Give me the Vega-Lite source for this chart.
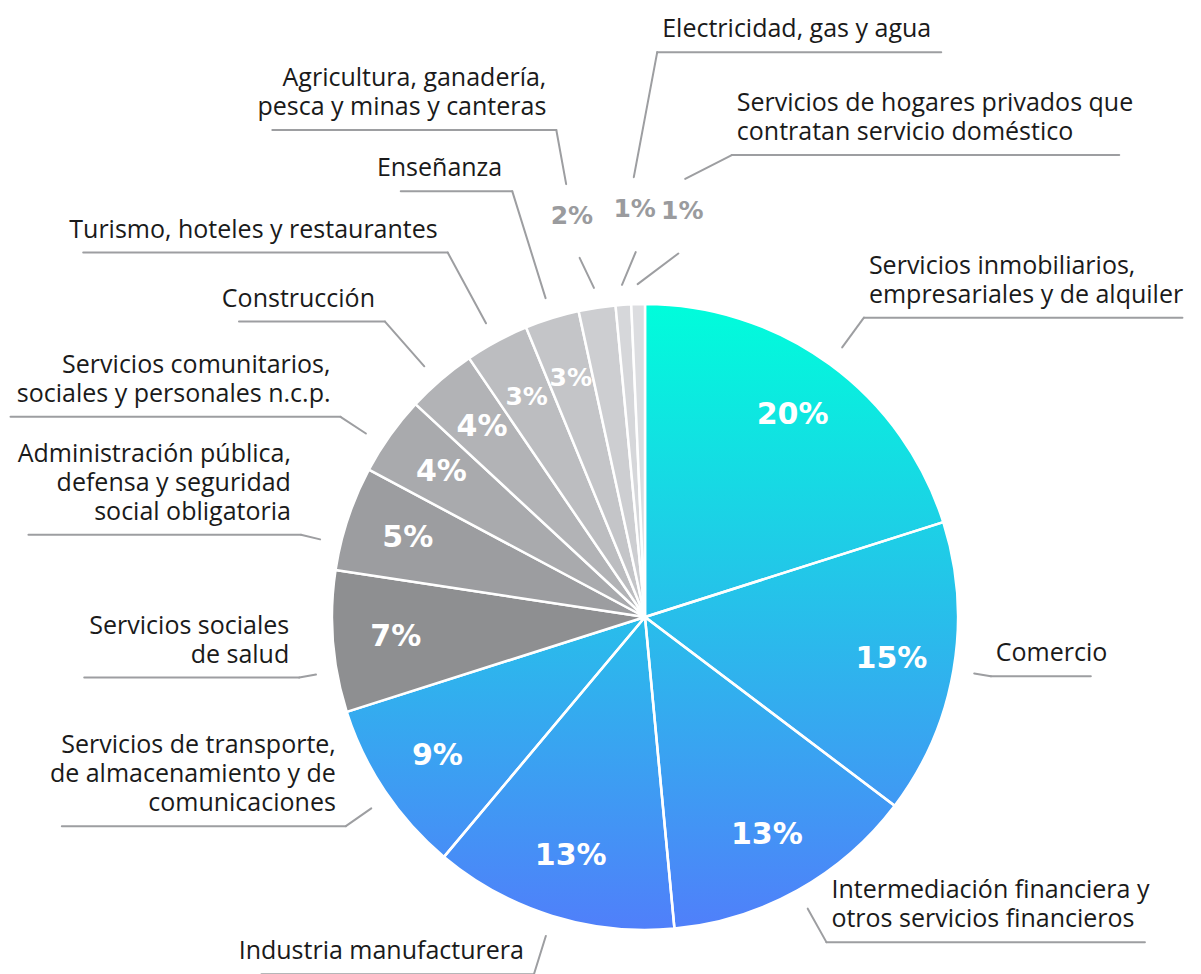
{
  "$schema": "https://vega.github.io/schema/vega-lite/v6.json",
  "width": 626,
  "height": 626,
  "autosize": {"type": "none"},
  "padding": {"left": 332, "top": 304, "right": 243, "bottom": 44},
  "background": "#ffffff",
  "config": {"view": {"stroke": null}},
  "data": {
    "values": [
      {"label": "Servicios inmobiliarios,|empresariales y de alquiler", "value": 20.1},
      {"label": "Comercio", "value": 15.2},
      {"label": "Intermediación financiera y|otros servicios financieros", "value": 13.2},
      {"label": "Industria manufacturera", "value": 12.6},
      {"label": "Servicios de transporte,|de almacenamiento y de|comunicaciones", "value": 9.0},
      {"label": "Servicios sociales|de salud", "value": 7.3},
      {"label": "Administración pública,|defensa y seguridad|social obligatoria", "value": 5.4},
      {"label": "Servicios comunitarios,|sociales y personales n.c.p.", "value": 4.1},
      {"label": "Construcción", "value": 3.6},
      {"label": "Turismo, hoteles y restaurantes", "value": 3.3},
      {"label": "Enseñanza", "value": 2.8},
      {"label": "Agricultura, ganadería,|pesca y minas y canteras", "value": 1.9},
      {"label": "Electricidad, gas y agua", "value": 0.8},
      {"label": "Servicios de hogares privados que|contratan servicio doméstico", "value": 0.7}
    ]
  },
  "transform": [
    {"window": [{"op": "row_number", "as": "idx"}]},
    {"window": [{"op": "sum", "field": "value", "as": "cum"}], "sort": [{"field": "idx"}], "frame": [null, 0]},
    {"joinaggregate": [{"op": "sum", "field": "value", "as": "total"}]},
    {"calculate": "(datum.cum - datum.value/2)/datum.total*2*PI", "as": "a"},
    {"calculate": "datum.value < 2.5", "as": "small"},
    {"window": [{"op": "row_number", "as": "kk"}], "groupby": ["small"], "sort": [{"field": "idx"}]},
    {"calculate": "datum.kk - 1", "as": "k"},
    {"calculate": "datum.small ? 0 : 6*exp(-pow((datum.a*180/PI - 275)/30, 2))", "as": "shift"},
    {"calculate": "datum.small ? datum.a + (datum.k*4 - 1.5)*PI/180 : datum.a - datum.shift*PI/180", "as": "al"},
    {"calculate": "datum.small ? datum.al + datum.k*2.7*PI/180 : datum.al", "as": "ae"},
    {"calculate": "datum.small ? (datum.k == 1 ? 565 : 495 - 12.5*datum.k) : 334 + 41*sqrt(abs(cos(datum.ae))) + max(0, 4 - datum.value)*60", "as": "re"},
    {"calculate": "datum.re*sin(datum.ae)", "as": "ex"},
    {"calculate": "-datum.re*cos(datum.ae)", "as": "ey"},
    {"calculate": "(datum.small ? 440 : 334)*sin(datum.al)", "as": "sx"},
    {"calculate": "-(datum.small ? 440 : 334)*cos(datum.al)", "as": "sy"},
    {"calculate": "333*sin(datum.a)", "as": "tx0"},
    {"calculate": "-333*cos(datum.a)", "as": "ty0"},
    {"calculate": "365*sin(datum.al)", "as": "tx1"},
    {"calculate": "-365*cos(datum.al)", "as": "ty1"},
    {"calculate": "split(datum.label, '|')", "as": "lines"},
    {"calculate": "max(length(datum.lines[0]), length(datum.lines[1] || ''), length(datum.lines[2] || ''))", "as": "nch"},
    {"calculate": "datum.ex > 0 ? 1 : -1", "as": "side"},
    {"calculate": "datum.ex + datum.side*(datum.nch*11.5 + 8)", "as": "hx"},
    {"calculate": "datum.ex + (datum.side > 0 ? 5 : -10)", "as": "lx"},
    {"calculate": "datum.ey - 10 - (length(datum.lines) - 1)*29", "as": "ly"},
    {"calculate": "format(datum.value, '.0f') + '%'", "as": "pct"},
    {"calculate": "datum.small ? 408*sin(datum.al) : 250*sin(datum.a)", "as": "px"},
    {"calculate": "datum.small ? -408*cos(datum.al) : -250*cos(datum.a)", "as": "py"}
  ],
  "layer": [
    {
      "transform": [
        {"filter": "datum.idx <= 5"},
        {"aggregate": [{"op": "sum", "field": "value", "as": "cs"}]}
      ],
      "mark": {
        "type": "arc",
        "fill": {
          "gradient": "linear",
          "x1": 0, "y1": 0, "x2": 0, "y2": 1,
          "stops": [
            {"offset": 0, "color": "#00FDDB"},
            {"offset": 1, "color": "#507FFA"}
          ]
        }
      },
      "encoding": {
        "theta": {"field": "cs", "type": "quantitative", "scale": {"domain": [0, 100]}}
      }
    },
    {
      "mark": {"type": "arc", "stroke": "#ffffff", "strokeWidth": 2.5, "strokeJoin": "bevel"},
      "encoding": {
        "theta": {"field": "value", "type": "quantitative", "stack": true, "scale": {"domain": [0, 100]}},
        "order": {"field": "idx", "type": "quantitative"},
        "color": {
          "field": "idx",
          "type": "ordinal",
          "legend": null,
          "scale": {
            "domain": [1, 2, 3, 4, 5, 6, 7, 8, 9, 10, 11, 12, 13, 14],
            "range": ["transparent", "transparent", "transparent", "transparent", "transparent", "#8E8F91", "#9C9DA0", "#A9AAAD", "#B2B3B6", "#BCBDC0", "#C4C5C8", "#CDCED1", "#D6D7DA", "#DCDDE0"]
          }
        }
      }
    },
    {
      "mark": {"type": "rule", "color": "#9D9EA1", "strokeWidth": 2, "strokeCap": "round"},
      "encoding": {
        "x": {"field": "sx", "type": "quantitative", "axis": null, "scale": {"domain": [-313, 313], "nice": false, "zero": false}},
        "y": {"field": "sy", "type": "quantitative", "axis": null, "scale": {"domain": [-313, 313], "nice": false, "zero": false, "reverse": true}},
        "x2": {"field": "ex"},
        "y2": {"field": "ey"}
      }
    },
    {
      "mark": {"type": "rule", "color": "#9D9EA1", "strokeWidth": 2, "strokeCap": "round"},
      "encoding": {
        "x": {"field": "ex", "type": "quantitative", "axis": null, "scale": {"domain": [-313, 313], "nice": false, "zero": false}},
        "y": {"field": "ey", "type": "quantitative", "axis": null, "scale": {"domain": [-313, 313], "nice": false, "zero": false, "reverse": true}},
        "x2": {"field": "hx"},
        "y2": {"field": "ey"}
      }
    },
    {
      "transform": [{"filter": "datum.small"}],
      "mark": {"type": "rule", "color": "#9D9EA1", "strokeWidth": 2, "strokeCap": "round"},
      "encoding": {
        "x": {"field": "tx0", "type": "quantitative", "axis": null, "scale": {"domain": [-313, 313], "nice": false, "zero": false}},
        "y": {"field": "ty0", "type": "quantitative", "axis": null, "scale": {"domain": [-313, 313], "nice": false, "zero": false, "reverse": true}},
        "x2": {"field": "tx1"},
        "y2": {"field": "ty1"}
      }
    },
    {
      "transform": [{"filter": "!datum.small"}],
      "mark": {"type": "text", "font": "DejaVu Sans", "fontWeight": "bold", "color": "#ffffff", "align": "center", "baseline": "middle"},
      "encoding": {
        "x": {"field": "px", "type": "quantitative", "axis": null, "scale": {"domain": [-313, 313], "nice": false, "zero": false}},
        "y": {"field": "py", "type": "quantitative", "axis": null, "scale": {"domain": [-313, 313], "nice": false, "zero": false, "reverse": true}},
        "text": {"field": "pct", "type": "nominal"},
        "size": {"condition": {"test": "datum.value < 3.5", "value": 25}, "value": 30}
      }
    },
    {
      "transform": [{"filter": "datum.small"}],
      "mark": {"type": "text", "font": "DejaVu Sans", "fontWeight": "bold", "fontSize": 25, "color": "#9A9B9E", "align": "center", "baseline": "middle"},
      "encoding": {
        "x": {"field": "px", "type": "quantitative", "axis": null, "scale": {"domain": [-313, 313], "nice": false, "zero": false}},
        "y": {"field": "py", "type": "quantitative", "axis": null, "scale": {"domain": [-313, 313], "nice": false, "zero": false, "reverse": true}},
        "text": {"field": "pct", "type": "nominal"}
      }
    },
    {
      "transform": [{"filter": "datum.side > 0"}],
      "mark": {"type": "text", "font": "Open Sans", "fontSize": 25, "lineHeight": 29, "color": "#1A1A1A", "align": "left", "baseline": "bottom"},
      "encoding": {
        "x": {"field": "lx", "type": "quantitative", "axis": null, "scale": {"domain": [-313, 313], "nice": false, "zero": false}},
        "y": {"field": "ly", "type": "quantitative", "axis": null, "scale": {"domain": [-313, 313], "nice": false, "zero": false, "reverse": true}},
        "text": {"field": "lines", "type": "nominal"}
      }
    },
    {
      "transform": [{"filter": "datum.side < 0"}],
      "mark": {"type": "text", "font": "Open Sans", "fontSize": 25, "lineHeight": 29, "color": "#1A1A1A", "align": "right", "baseline": "bottom"},
      "encoding": {
        "x": {"field": "lx", "type": "quantitative", "axis": null, "scale": {"domain": [-313, 313], "nice": false, "zero": false}},
        "y": {"field": "ly", "type": "quantitative", "axis": null, "scale": {"domain": [-313, 313], "nice": false, "zero": false, "reverse": true}},
        "text": {"field": "lines", "type": "nominal"}
      }
    }
  ]
}
